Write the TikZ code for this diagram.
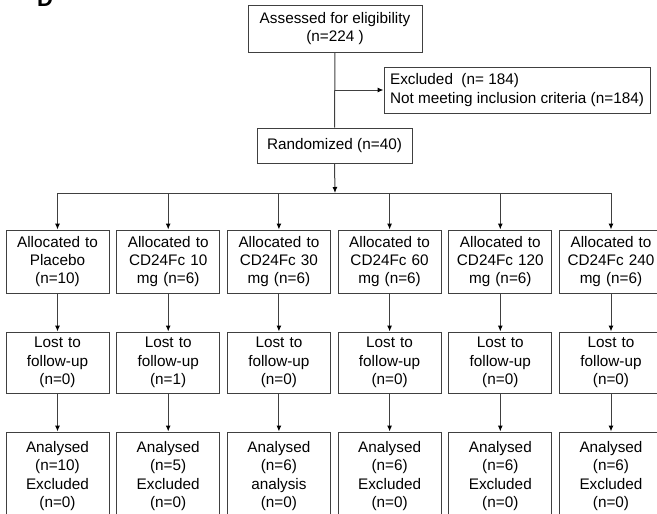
\documentclass[tikz,border=0pt]{standalone}
\usepackage{fontspec}
\setmainfont{Liberation Sans}
\usetikzlibrary{arrows.meta}
\tikzset{
  box/.style={draw=black!75, line width=1pt, align=center, inner sep=2pt,
    font=\fontsize{15.3}{18.3}\selectfont, text=black},
  colbox/.style={box, minimum width=103pt, text width=99pt},
  arr/.style={draw=black!75, line width=1pt, -{Latex[length=6pt,width=5pt,color=black]}},
  ln/.style={draw=black!75, line width=1pt}
}
\begin{document}
\begin{tikzpicture}[x=1pt,y=-1pt]
\useasboundingbox (0,0) rectangle (657,514);
\clip (0,0) rectangle (657,514);
\node[anchor=base, font=\fontsize{22}{22}\selectfont\bfseries] (lab) at (45,6) {D};
\node[box, minimum width=174pt, minimum height=47pt] (assess) at (335,28.5) {Assessed for eligibility\\(n=224 )};
\node[box, minimum width=266pt, minimum height=46pt, align=left] (excl) at (517,90) {Excluded\ \ (n= 184)\\Not meeting inclusion criteria (n=184)};
\node[box, minimum width=155pt, minimum height=35pt] (rand) at (334.5,145.5) {Randomized (n=40)};
\coordinate (branch) at (335,90);
\draw[ln] (assess.south) -- (rand.north);
\draw[arr] (branch) -- (excl.west);
\coordinate (hub) at (335,193);
\draw[arr] (rand.south) -- (hub);
\foreach \i/\x/\a/\l/\b in {
 1/57.5/{Allocated to\\Placebo\\(n=10)}/{(n=0)}/{Analysed\\(n=10)\\Excluded\\(n=0)},
 2/168.2/{Allocated to\\CD24Fc 10\\mg (n=6)}/{(n=1)}/{Analysed\\(n=5)\\Excluded\\(n=0)},
 3/278.9/{Allocated to\\CD24Fc 30\\mg (n=6)}/{(n=0)}/{Analysed\\(n=6)\\analysis\\(n=0)},
 4/389.6/{Allocated to\\CD24Fc 60\\mg (n=6)}/{(n=0)}/{Analysed\\(n=6)\\Excluded\\(n=0)},
 5/500.3/{Allocated to\\CD24Fc 120\\mg (n=6)}/{(n=0)}/{Analysed\\(n=6)\\Excluded\\(n=0)},
 6/611/{Allocated to\\CD24Fc 240\\mg (n=6)}/{(n=0)}/{Analysed\\(n=6)\\Excluded\\(n=0)}}{
  \node[colbox, minimum height=63pt] (al\i) at (\x,261.5) {\a};
  \node[colbox, minimum height=61pt] (lo\i) at (\x,362.5) {Lost to\\follow-up\\\l};
  \node[colbox, minimum height=88pt] (an\i) at (\x,476) {\b};
  \coordinate (top\i) at (\x,193);
  \draw[arr] (top\i) -- (al\i.north);
  \draw[arr] (al\i.south) -- (lo\i.north);
  \draw[arr] (lo\i.south) -- (an\i.north);
}
\draw[ln] (top1) -- (top6);
\end{tikzpicture}
\end{document}
